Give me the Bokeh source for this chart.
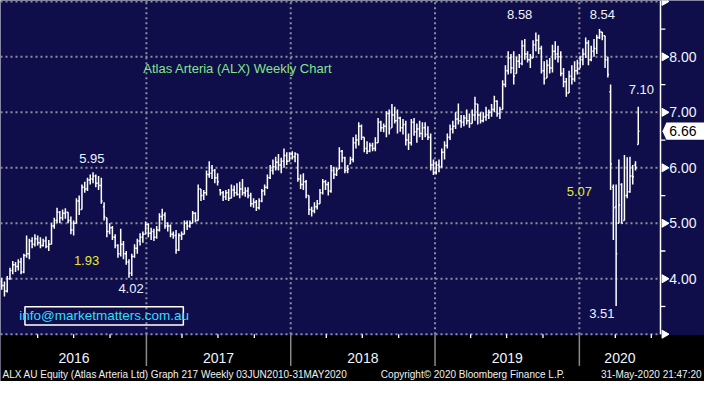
import math
import pandas as pd
from bokeh.plotting import figure
from bokeh.models import Range1d
from bokeh.core.properties import value
from bokeh.embed import file_html
from bokeh.resources import INLINE

# ---------------- data (weekly OHLC, ALX) ----------------
start_week = "2016-01-01"

o16 = [3.95,3.88,3.78,4.00,4.15,4.25,4.22,4.30,4.12,4.42,4.45,4.68,4.62,4.72,4.65,4.60,4.68,4.58,4.62,4.95,5.05,5.20,5.10,5.18,5.20,5.05,4.88,5.00,5.40,5.25,5.65,5.62,5.78,5.80,5.85,5.72,5.68,5.30,5.10,4.85,4.92,4.75,4.60,4.45,4.62,4.45,4.30,4.10,4.40,4.55,4.68,4.75]
h16 = [4.02,3.95,4.05,4.20,4.32,4.30,4.35,4.38,4.45,4.78,4.72,4.75,4.80,4.78,4.75,4.72,4.76,4.70,5.00,5.10,5.28,5.22,5.25,5.27,5.20,5.12,5.05,5.45,5.50,5.70,5.75,5.82,5.88,5.92,5.88,5.85,5.82,5.38,5.10,5.00,4.95,4.80,4.62,4.90,4.68,4.50,4.35,4.45,4.62,4.72,4.82,4.85]
l16 = [3.80,3.68,3.75,3.98,4.08,4.12,4.15,4.08,4.10,4.38,4.35,4.55,4.58,4.60,4.55,4.58,4.55,4.50,4.62,4.90,5.00,5.00,5.05,5.08,5.00,4.80,4.78,5.00,5.15,5.25,5.55,5.58,5.70,5.72,5.65,5.60,5.35,5.05,4.75,4.80,4.70,4.55,4.38,4.40,4.35,4.25,4.02,4.05,4.38,4.45,4.60,4.65]
c16 = [3.88,3.78,4.00,4.15,4.25,4.22,4.30,4.12,4.42,4.45,4.68,4.62,4.72,4.65,4.60,4.68,4.58,4.62,4.95,5.05,5.20,5.10,5.18,5.20,5.05,4.88,5.00,5.40,5.25,5.65,5.62,5.78,5.80,5.85,5.72,5.68,5.40,5.12,4.85,4.92,4.75,4.60,4.45,4.62,4.45,4.30,4.10,4.40,4.55,4.68,4.75,4.80]

o17 = [4.80,4.98,4.82,4.85,4.75,4.88,5.12,5.15,4.95,4.95,4.80,4.78,4.52,4.78,4.80,5.00,4.95,5.00,5.18,5.05,5.62,5.50,5.55,5.88,5.90,5.95,5.82,5.60,5.55,5.48,5.55,5.45,5.60,5.55,5.52,5.62,5.55,5.58,5.50,5.35,5.38,5.28,5.40,5.58,5.65,5.82,5.95,6.02,6.10,6.05,6.12,6.22]
h17 = [5.03,5.00,4.92,4.90,4.95,5.18,5.26,5.20,5.02,4.98,4.85,4.88,4.82,4.85,5.05,5.05,5.05,5.22,5.20,5.70,5.62,5.60,5.95,6.12,6.05,5.98,5.90,5.62,5.58,5.60,5.62,5.70,5.68,5.72,5.75,5.80,5.65,5.65,5.55,5.45,5.42,5.45,5.62,5.70,5.88,6.05,6.15,6.20,6.25,6.18,6.35,6.28]
l17 = [4.80,4.75,4.70,4.68,4.72,4.85,5.05,4.90,4.85,4.75,4.72,4.45,4.50,4.70,4.80,4.88,4.92,5.00,5.02,5.05,5.40,5.42,5.50,5.82,5.80,5.72,5.68,5.50,5.40,5.42,5.40,5.45,5.48,5.50,5.45,5.50,5.48,5.45,5.30,5.28,5.22,5.25,5.38,5.50,5.62,5.80,5.88,5.95,5.95,5.90,6.00,6.05]
c17 = [4.98,4.82,4.85,4.75,4.88,5.12,5.15,4.95,4.95,4.80,4.78,4.52,4.78,4.80,5.00,4.95,5.00,5.18,5.05,5.62,5.50,5.55,5.88,5.90,5.95,5.82,5.75,5.55,5.48,5.55,5.45,5.60,5.55,5.52,5.62,5.55,5.58,5.50,5.35,5.38,5.28,5.40,5.58,5.65,5.82,5.95,6.02,6.10,6.05,6.12,6.22,6.12]

o18 = [6.12,6.25,6.20,6.25,5.80,5.70,5.75,5.50,5.25,5.22,5.30,5.35,5.55,5.75,5.70,5.58,5.95,5.88,5.98,6.30,6.18,5.95,6.07,6.15,6.45,6.50,6.75,6.55,6.35,6.30,6.40,6.35,6.45,6.82,6.72,6.75,6.98,6.72,6.95,6.85,6.90,6.72,6.78,6.50,6.45,6.82,6.65,6.70,6.62,6.72,6.60,6.55,6.05]
h18 = [6.28,6.30,6.28,6.25,5.88,5.90,5.78,5.50,5.30,5.38,5.42,5.62,5.80,5.78,5.75,6.05,6.02,6.00,6.37,6.32,6.20,6.05,6.20,6.55,6.60,6.82,6.78,6.55,6.48,6.45,6.45,6.55,6.90,6.85,6.80,7.02,7.05,7.15,7.10,7.05,6.92,6.88,6.85,6.62,6.88,6.90,6.80,6.85,6.82,6.82,6.75,6.62,6.15]
l18 = [6.12,6.15,6.10,5.75,5.62,5.60,5.45,5.15,5.12,5.18,5.25,5.35,5.52,5.60,5.50,5.55,5.80,5.85,5.98,6.10,5.90,5.90,6.07,6.10,6.35,6.40,6.50,6.28,6.25,6.28,6.30,6.30,6.45,6.65,6.64,6.55,6.60,6.72,6.80,6.62,6.65,6.60,6.40,6.32,6.40,6.58,6.45,6.55,6.50,6.55,6.50,5.95,5.87]
c18 = [6.25,6.20,6.25,5.80,5.70,5.75,5.50,5.25,5.22,5.30,5.35,5.55,5.75,5.70,5.58,5.95,5.88,5.95,6.30,6.18,5.95,5.98,6.15,6.45,6.50,6.75,6.55,6.35,6.30,6.40,6.35,6.45,6.82,6.72,6.75,6.98,6.70,6.95,6.85,6.90,6.72,6.78,6.50,6.45,6.82,6.65,6.70,6.62,6.72,6.60,6.55,6.05,5.92]

o19 = [5.92,6.05,6.02,6.28,6.40,6.55,6.70,6.75,6.88,6.85,6.82,6.90,6.85,6.80,6.95,7.15,6.95,6.85,6.92,6.95,7.00,7.05,7.20,6.98,7.05,7.50,7.75,7.98,7.80,7.70,7.92,7.88,8.20,8.05,7.95,7.98,8.22,8.30,8.15,7.75,7.62,7.85,7.80,8.10,8.05,8.00,7.70,7.55,7.35,7.65,7.60,7.75]
h19 = [6.12,6.15,6.35,6.48,6.62,6.78,6.85,7.00,7.16,6.95,6.95,7.05,6.98,7.05,7.28,7.15,7.00,7.00,7.10,7.05,7.15,7.30,7.22,7.10,7.58,7.85,8.10,8.05,8.10,8.00,8.05,8.30,8.32,8.10,8.05,8.30,8.44,8.40,8.20,7.92,7.95,7.98,8.22,8.28,8.20,8.10,7.80,7.62,7.75,7.85,7.92,7.95]
l19 = [5.88,5.92,6.00,6.15,6.35,6.50,6.62,6.70,6.78,6.72,6.75,6.78,6.72,6.80,6.85,6.78,6.80,6.82,6.85,6.88,6.92,7.00,6.92,6.88,7.05,7.45,7.68,7.70,7.50,7.70,7.80,7.85,7.95,7.90,7.80,7.98,8.10,8.05,7.70,7.50,7.62,7.70,7.72,7.95,7.90,7.65,7.45,7.28,7.35,7.50,7.55,7.68]
c19 = [6.05,6.02,6.28,6.40,6.55,6.70,6.75,6.88,6.85,6.82,6.90,6.85,6.80,6.95,7.15,6.95,6.85,6.92,6.95,7.00,7.05,7.20,6.98,7.05,7.50,7.75,7.98,7.80,7.65,7.92,7.88,8.20,8.05,7.95,7.98,8.22,8.30,8.15,7.75,7.60,7.85,7.80,8.10,8.05,8.00,7.70,7.55,7.35,7.65,7.60,7.75,7.78]

o20 = [7.78,7.95,8.05,8.25,7.95,8.10,8.15,8.35,8.45,8.38,7.95,7.37,5.65,5.30,5.00,5.70,5.05,5.50,5.57,5.85,6.05,6.42]
h20 = [8.02,8.15,8.35,8.30,8.20,8.32,8.40,8.50,8.45,8.38,8.00,7.50,5.70,5.70,6.15,5.72,6.23,6.19,6.20,6.05,6.12,7.10]
l20 = [7.80,7.85,7.98,7.85,7.92,8.00,8.05,8.32,8.30,7.80,7.63,5.60,4.70,3.51,5.00,5.00,5.05,5.45,5.55,5.70,5.95,6.42]
c20 = [7.95,8.05,8.25,7.95,8.10,8.15,8.35,8.45,8.38,7.95,7.68,6.07,5.28,4.45,5.33,5.00,5.50,5.57,5.85,5.84,6.00,6.66]

y_ticks = [4, 5, 6, 7, 8]
y_grid = [3, 4, 5, 6, 7, 8, 9]
y_minor = [3.5, 4.5, 5.5, 6.5, 7.5, 8.5]
years = [2016, 2017, 2018, 2019, 2020]

annotations = [  # text, ref-pixel x centre, ref-pixel y centre, colour
    ("5.95", 93.5, 165, "#eef2ff"),
    ("1.93", 88, 271, "#e8e830"),
    ("4.02", 133.5, 300, "#eef2ff"),
    ("8.58", 531, 15, "#eef2ff"),
    ("8.54", 615.5, 15, "#eef2ff"),
    ("7.10", 655.5, 93, "#eef2ff"),
    ("5.07", 592, 199, "#e8e830"),
    ("3.51", 615, 326, "#eef2ff"),
]

# ---------------- layout helpers ----------------
NAVY = "#0f0e4a"
FONT = value("Liberation Sans")
PX = pd.Timedelta(days=365.25 / 147.7)      # one reference pixel in time
X0 = pd.Timestamp("2015-12-29")
X1 = X0 + 720 * PX
Y_TOP = 9.016
PPU = 57.8                                  # reference pixels per dollar


def rx(px):
    return X0 + px * PX


def ry(py):
    return Y_TOP - py / PPU


AXIS_X = rx(675)
Y_BOT = ry(397)
Y_PLOT = 3.0

opens = o16 + o17 + o18 + o19 + o20
highs = h16 + h17 + h18 + h19 + h20
lows = l16 + l17 + l18 + l19 + l20
closes = c16 + c17 + c18 + c19 + c20
dates = list(pd.date_range(start_week, periods=len(closes), freq="7D"))

p = figure(width=704, height=381, x_range=Range1d(X0, X1), y_range=Range1d(Y_BOT, Y_TOP),
           output_backend="svg", toolbar_location=None, min_border=0,
           min_border_left=0, min_border_right=0, min_border_top=0, min_border_bottom=0)
p.xaxis.visible = False
p.yaxis.visible = False
p.grid.visible = False
p.outline_line_color = None
p.background_fill_color = NAVY
p.border_fill_color = "black"

# black strip under the plot
p.quad(left=[X0], right=[X1], bottom=[Y_BOT], top=[Y_PLOT - 0.012], fill_color="black", line_color=None)

# dotted grid
p.segment(x0=[X0] * len(y_grid), y0=y_grid, x1=[AXIS_X] * len(y_grid), y1=y_grid,
          line_color="#8e8e9a", line_width=2, line_dash="2 3")
bounds = [pd.Timestamp(y, 1, 1) for y in years[1:]]
p.segment(x0=bounds, y0=[Y_PLOT] * len(bounds), x1=bounds, y1=[Y_TOP] * len(bounds),
          line_color="#8e8e9a", line_width=2, line_dash="2 3")

# OHLC bars
tick = pd.Timedelta(days=3)
BAR_W = 1.5
p.segment(x0=dates, y0=lows, x1=dates, y1=highs, line_color="white", line_width=BAR_W)
p.segment(x0=[d - tick for d in dates], y0=opens, x1=dates, y1=opens, line_color="white", line_width=BAR_W)
p.segment(x0=dates, y0=closes, x1=[d + tick for d in dates], y1=closes, line_color="white", line_width=BAR_W)

# right price axis
p.segment(x0=[AXIS_X], y0=[Y_PLOT], x1=[AXIS_X], y1=[Y_TOP], line_color="white", line_width=1.5)
p.segment(x0=[AXIS_X] * len(y_minor), y0=y_minor, x1=[AXIS_X + 5 * PX] * len(y_minor), y1=y_minor,
          line_color="white", line_width=1.3)
p.scatter(x=[AXIS_X + 4 * PX] * len(y_grid), y=y_grid, marker="triangle", angle=-math.pi / 2,
          size=8, fill_color="white", line_color="white")
p.text(x=[AXIS_X + 9 * PX] * len(y_ticks), y=y_ticks, text=["%.2f" % v for v in y_ticks],
       text_color="#f2f4ff", text_font=FONT, text_font_size=value("14px"),
       text_baseline="middle", text_align="left")

# last price flag
last = closes[-1]
hh = 9 / PPU
p.patch(x=[AXIS_X + 2 * PX, AXIS_X + 6 * PX, X1, X1, AXIS_X + 6 * PX],
        y=[last, last + hh, last + hh, last - hh, last - hh], fill_color="white", line_color=None)
p.text(x=[AXIS_X + 9 * PX], y=[last], text=["%.2f" % last], text_color="black", text_font=FONT,
       text_font_size=value("14px"), text_baseline="middle", text_align="left")

# bottom time axis
quarters = [pd.Timestamp(y, m, 1) for y in years for m in (4, 7, 10) if pd.Timestamp(y, m, 1) < AXIS_X]
p.segment(x0=quarters, y0=[Y_PLOT] * len(quarters), x1=quarters, y1=[Y_PLOT - 4 / PPU] * len(quarters),
          line_color="white", line_width=1.3)
p.segment(x0=bounds, y0=[Y_PLOT] * len(bounds), x1=bounds, y1=[Y_PLOT - 33 / PPU] * len(bounds),
          line_color="#8a8a8a", line_width=1.5)
centers = []
for y in years:
    a = max(pd.Timestamp(y, 1, 1), X0)
    b = min(pd.Timestamp(y + 1, 1, 1), AXIS_X)
    centers.append(a + (b - a) / 2)
p.text(x=centers, y=[ry(373)] * len(years), text=[str(y) for y in years], text_color="#f2f4ff",
       text_font=FONT, text_font_size=value("14px"), text_baseline="middle", text_align="center")

# footer
FOOT = dict(text_color="#f0f0f0", text_font=FONT, text_font_size=value("10px"), text_baseline="middle")
p.text(x=[rx(2), rx(389)], y=[ry(389.5)] * 2,
       text=["ALX AU Equity (Atlas Arteria Ltd) Graph 217  Weekly 03JUN2010-31MAY2020",
             "Copyright\u00a9 2020 Bloomberg Finance L.P."], text_align="left", **FOOT)
p.text(x=[rx(717)], y=[ry(389.5)], text=["31-May-2020 21:47:20"], text_align="right", **FOOT)

# chart annotations
p.text(x=[rx(146)], y=[ry(71)], text=["Atlas Arteria (ALX) Weekly Chart"], text_color="#86e486",
       text_font=FONT, text_font_size=value("13px"), text_baseline="middle", text_align="left")
for t, ax, ay, col in annotations:
    p.text(x=[rx(ax)], y=[ry(ay)], text=[t], text_color=col, text_font=FONT,
           text_font_size=value("13px"), text_baseline="middle", text_align="center")

p.quad(left=[rx(25)], right=[rx(187)], bottom=[ry(338)], top=[ry(319)], fill_color=None,
       line_color="white", line_width=1.5)
p.text(x=[rx(106)], y=[ry(328.5)], text=["info@marketmatters.com.au"], text_color="#33ddff",
       text_font=FONT, text_font_size=value("13.5px"), text_baseline="middle", text_align="center")

open("out.html", "w").write(file_html(p, INLINE))
